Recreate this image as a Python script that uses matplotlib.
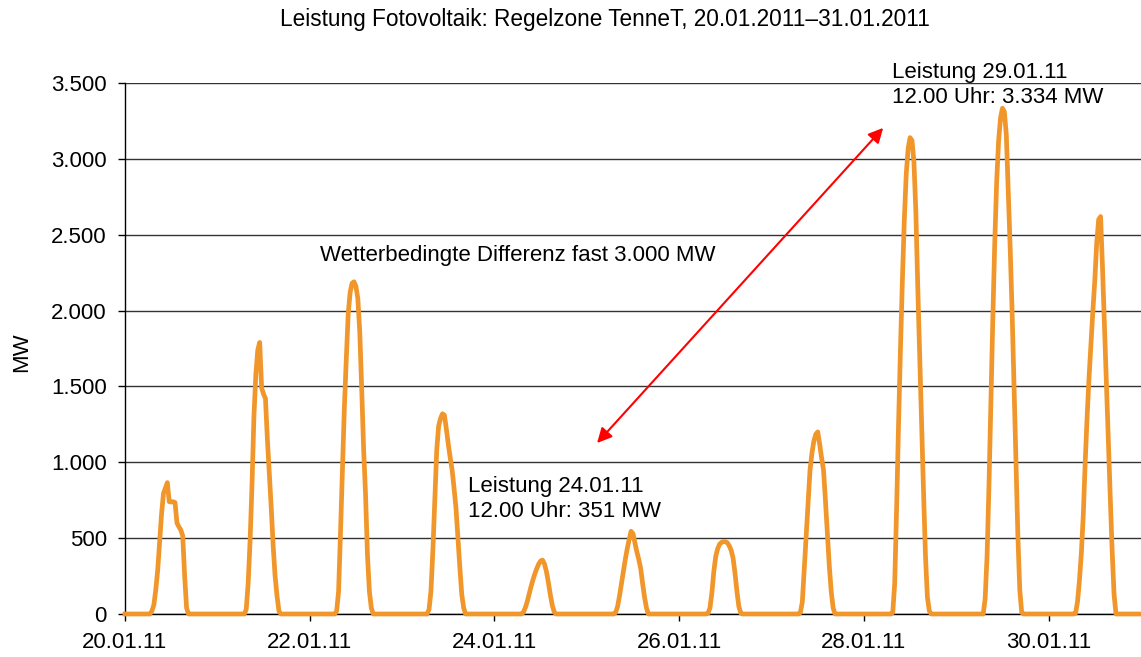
import pandas as pd
import matplotlib
matplotlib.use('Agg')
import matplotlib.pyplot as plt
from matplotlib.ticker import FuncFormatter, MultipleLocator

plt.rcParams['font.family'] = ['Liberation Sans', 'DejaVu Sans']

# PV-Leistung TenneT in MW, halbstuendlich ab 06:30 bis 17:30 (nachts 0)
first_slot = '06:30'
days = ['2011-01-20', '2011-01-21', '2011-01-22', '2011-01-23', '2011-01-24', '2011-01-25',
        '2011-01-26', '2011-01-27', '2011-01-28', '2011-01-29', '2011-01-30']
jan20 = [0, 20, 60, 160, 290, 470, 660, 795, 830, 866, 740, 738, 740, 735, 600, 575, 554, 515, 250, 40, 0, 0, 0]
jan21 = [0, 0, 30, 200, 480, 850, 1300, 1580, 1740, 1790, 1490, 1450, 1420, 1150, 930, 700, 450, 250, 120, 20, 0, 0, 0]
jan22 = [0, 20, 150, 540, 960, 1360, 1680, 1980, 2120, 2180, 2190, 2160, 2080, 1860, 1490, 1090, 790, 390, 150, 40, 0, 0, 0]
jan23 = [0, 30, 150, 420, 750, 1080, 1240, 1290, 1320, 1310, 1220, 1120, 1030, 950, 830, 700, 500, 310, 130, 40, 0, 0, 0]
jan24 = [0, 0, 10, 40, 80, 130, 180, 225, 265, 300, 330, 350, 355, 330, 280, 210, 130, 60, 15, 0, 0, 0, 0]
jan25 = [0, 0, 10, 50, 120, 200, 280, 360, 430, 490, 545, 530, 470, 410, 360, 300, 200, 110, 40, 0, 0, 0, 0]
jan26 = [0, 0, 5, 40, 140, 280, 380, 430, 460, 472, 477, 477, 470, 450, 420, 370, 270, 150, 50, 5, 0, 0, 0]
jan27 = [0, 0, 10, 80, 300, 530, 740, 950, 1060, 1140, 1185, 1200, 1120, 1030, 950, 750, 530, 320, 150, 40, 0, 0, 0]
jan28 = [0, 0, 10, 200, 700, 1250, 1750, 2200, 2600, 2900, 3070, 3140, 3120, 2980, 2650, 2150, 1700, 1250, 800, 380, 110, 20, 0]
jan29 = [0, 0, 100, 380, 850, 1400, 1950, 2450, 2850, 3120, 3270, 3334, 3310, 3160, 2800, 2420, 2000, 1520, 1020, 520, 160, 10, 0]
jan30 = [0, 5, 80, 220, 400, 650, 1000, 1300, 1560, 1780, 2000, 2200, 2450, 2600, 2620, 2280, 1900, 1540, 1130, 780, 420, 130, 0]
profiles = [jan20, jan21, jan22, jan23, jan24, jan25, jan26, jan27, jan28, jan29, jan30]

tick_days = ['2011-01-20', '2011-01-22', '2011-01-24', '2011-01-26', '2011-01-28', '2011-01-30']
tick_labels = ['20.01.11', '22.01.11', '24.01.11', '26.01.11', '28.01.11', '30.01.11']

title = 'Leistung Fotovoltaik: Regelzone TenneT, 20.01.2011\u201331.01.2011'
note_diff = 'Wetterbedingte Differenz fast 3.000 MW'
note_24 = 'Leistung 24.01.11\n12.00 Uhr: 351 MW'
note_29 = 'Leistung 29.01.11\n12.00 Uhr: 3.334 MW'

# full time axis, night = 0
idx = pd.date_range('2011-01-20 00:00', '2011-01-31 00:00', freq='30min')
power = pd.Series(0.0, index=idx)
for day, vals in zip(days, profiles):
    t = pd.date_range(day + ' ' + first_slot, periods=len(vals), freq='30min')
    power[t] = vals

fig = plt.figure(figsize=(11.41, 6.57), dpi=100)
ax = fig.add_axes([125 / 1141, 43 / 657, 1016 / 1141, 531 / 657])

ax.plot(power.index, power.values, color='#F0962A', lw=3.4, solid_joinstyle='round',
        zorder=3, clip_on=False)

ax.set_xlim(pd.Timestamp('2011-01-20'), pd.Timestamp('2011-01-31'))
ax.set_ylim(0, 3500)
ax.yaxis.set_major_locator(MultipleLocator(500))
ax.yaxis.set_major_formatter(FuncFormatter(lambda v, p: f'{int(v):,}'.replace(',', '.')))
ax.set_xticks(pd.to_datetime(tick_days))
ax.set_xticklabels(tick_labels)
ax.tick_params(labelsize=16, length=5, width=1, colors='black', pad=8)

ax.grid(axis='y', color='#333333', lw=1)
ax.set_axisbelow(True)
for s in ['top', 'right']:
    ax.spines[s].set_visible(False)
for s in ['left', 'bottom']:
    ax.spines[s].set_linewidth(1)

fig.text(0.530, 0.970, title, ha='center', va='center', fontsize=16.3)
fig.text(0.019, 0.464, 'MW', rotation=90, ha='center', va='center', fontsize=16)

ax.text(pd.Timestamp('2011-01-22 02:40'), 2360, note_diff, fontsize=16, va='center')
ax.text(pd.Timestamp('2011-01-23 17:10'), 758, note_24, fontsize=16, va='center')
ax.text(pd.Timestamp('2011-01-28 07:20'), 3487, note_29, fontsize=16, va='center')

ax.annotate('', xy=(pd.Timestamp('2011-01-28 05:00'), 3204),
            xytext=(pd.Timestamp('2011-01-25 02:40'), 1127),
            arrowprops=dict(arrowstyle='<|-|>', color='red', lw=1.5,
                            mutation_scale=22, shrinkA=0, shrinkB=0))

fig.savefig('out.png', dpi=100)
